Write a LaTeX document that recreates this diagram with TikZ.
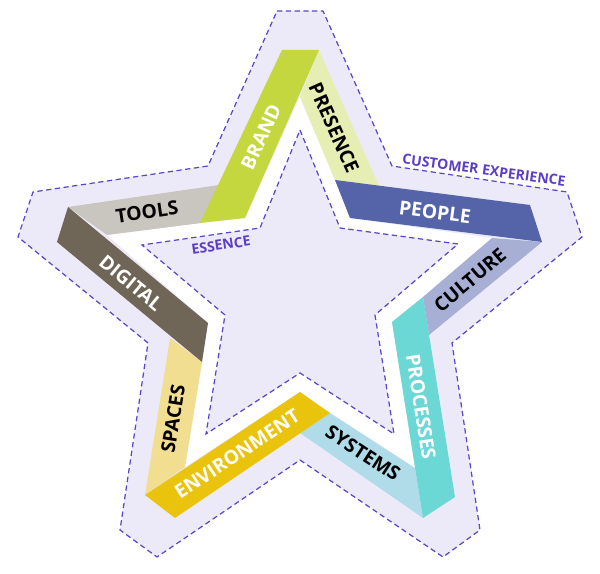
\documentclass[tikz,border=0pt]{standalone}
\usepackage{fontspec}
\setmainfont{Open Sans}
\definecolor{lav}{HTML}{ECEAF8}
\definecolor{dashc}{HTML}{5B45C8}
\definecolor{purp}{HTML}{5C3DC6}
\definecolor{cBrand}{HTML}{C5D73E}
\definecolor{cPresence}{HTML}{E6EEB4}
\definecolor{cPeople}{HTML}{5563A9}
\definecolor{cCulture}{HTML}{A8AFD4}
\definecolor{cProcesses}{HTML}{6CD8D5}
\definecolor{cSystems}{HTML}{B0DCEA}
\definecolor{cEnv}{HTML}{EAC40C}
\definecolor{cSpaces}{HTML}{F2DE90}
\definecolor{cDigital}{HTML}{6F6658}
\definecolor{cTools}{HTML}{C9C5BF}
\begin{document}
\begin{tikzpicture}[x=0.02cm,y=-0.02cm,
  dashline/.style={draw=dashc, line width=0.7pt, dash pattern=on 3pt off 2pt},
  lbl/.style={font=\bfseries\fontsize{11}{13}\selectfont, inner sep=0pt},
  dlbl/.style={font=\bfseries\fontsize{8}{10}\selectfont, inner sep=0pt, text=purp}]
\useasboundingbox (0,0) rectangle (600,574);
% outer star
\path[fill=lav, dashline] (277,11) -- (323,11) -- (392,166) -- (567,192) -- (582,237)
  -- (452,343) -- (480,530) -- (443,557) -- (300,460) -- (157,557) -- (120,530)
  -- (148,343) -- (18,237) -- (33,192) -- (208,166) -- cycle;
% white band inside the ribbon
\fill[white] (300,97) -- (335,180) -- (350,218) -- (492,238) -- (423,297) -- (392,322)
  -- (415,468) -- (330,413) -- (300,392) -- (185,467) -- (202,362) -- (208,323)
  -- (107,235) -- (201,223) -- (245,218) -- cycle;
% light faces
\fill[cTools] (68,207) -- (219,185) -- (201,223) -- (107,235) -- cycle;
\fill[cPresence] (319,50) -- (379,186) -- (335,180) -- (300,97) -- cycle;
\fill[cCulture] (492,238) -- (542,242) -- (429,335) -- (423,297) -- cycle;
\fill[cSystems] (330,413) -- (415,468) -- (423,518) -- (300,433) -- cycle;
\fill[cSpaces] (170,338) -- (202,362) -- (185,467) -- (145,495) -- cycle;
% dark faces
\fill[cBrand] (282,50) -- (319,50) -- (245,218) -- (200,223) -- cycle;
\fill[cPeople] (335,180) -- (530,205) -- (542,242) -- (350,218) -- cycle;
\fill[cProcesses] (392,322) -- (423,297) -- (455,497) -- (423,518) -- cycle;
\fill[cEnv] (300,392) -- (330,413) -- (175,518) -- (145,495) -- cycle;
\fill[cDigital] (68,207) -- (208,323) -- (202,362) -- (57,242) -- cycle;
% inner star
\path[fill=lav, dashline] (300,130) -- (340,228) -- (458,244) -- (375,315) -- (394,434)
  -- (300,373) -- (206,434) -- (225,315) -- (142,245) -- (260,228) -- cycle;
% labels
\node[lbl, text=black, rotate=8.4] (tools) at (147,212) {TOOLS};
\node[lbl, text=white, rotate=65] (brand) at (261,137) {BRAND};
\node[lbl, text=black, rotate=-66] (presence) at (334,128) {PRESENCE};
\node[lbl, text=white, rotate=-7.3] (people) at (435,212) {PEOPLE};
\node[lbl, text=black, rotate=40] (culture) at (470,280) {CULTURE};
\node[lbl, text=white, rotate=-81] (processes) at (421,407) {PROCESSES};
\node[lbl, text=black, rotate=-33] (systems) at (363,453) {SYSTEMS};
\node[lbl, text=white, rotate=33.6] (environment) at (237,454) {ENVIRONMENT};
\node[lbl, text=black, rotate=81] (spaces) at (173,419) {SPACES};
\node[lbl, text=white, rotate=-39.6] (digital) at (131,283) {DIGITAL};
\node[dlbl, rotate=-7.8] (cx) at (484,170) {CUSTOMER EXPERIENCE};
\node[dlbl, rotate=8.6] (essence) at (221,245) {ESSENCE};
\end{tikzpicture}
\end{document}
